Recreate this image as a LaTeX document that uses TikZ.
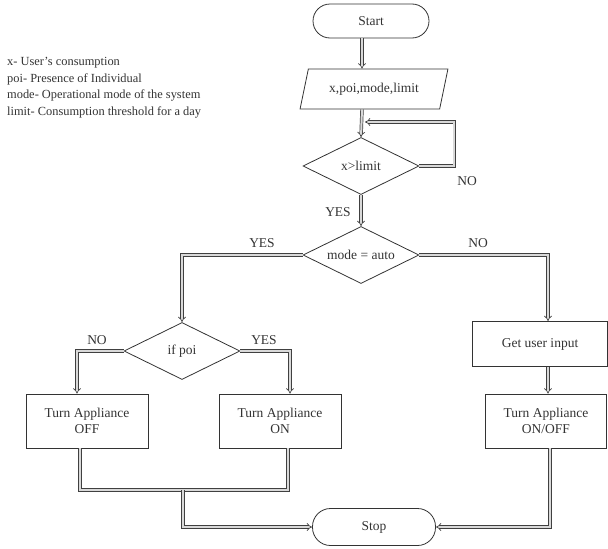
\documentclass[tikz,border=0pt]{standalone}
\usepackage{fontspec}
\setmainfont{Liberation Serif}
\usetikzlibrary{positioning,shapes.geometric,arrows.meta}

\begin{document}
\begin{tikzpicture}[
        x=1pt, y=-1pt,
        font=\fontsize{13.5}{16}\selectfont,
        text=black!80,
        box/.style={draw=black!80, line width=0.8pt, align=center, inner sep=2pt},
        term/.style={box, rounded corners=17pt, minimum width=116pt, minimum height=34pt},
        proc/.style={box, minimum width=122pt, minimum height=54pt},
        io/.style={box, trapezium, trapezium left angle=70, trapezium right angle=110,
                   trapezium stretches=true, minimum width=148pt, minimum height=40pt},
        cond/.style={box, diamond, shape aspect=2, minimum width=116pt,
                     minimum height=57pt, inner sep=0pt},
        lbl/.style={inner sep=1pt},
        wire/.style={draw=black!75, line width=0.7pt, double=black!15, double distance=2pt},
        arr/.style={wire, -{Implies}},
    ]
    \useasboundingbox (0,0) rectangle (608,549);

    % --- Legenda ---
    \node[anchor=north west, align=left, inner sep=0pt, font=\fontsize{12.4}{16.6}\selectfont]
        (legend) at (7,57) {x- User's consumption\\
                            poi- Presence of Individual\\
                            mode- Operational mode of the system\\
                            limit- Consumption threshold for a day};

    % --- Kolumna glowna ---
    \node[term] (start) at (371,21) {Start};
    \node[io] (input) at (374,89) {x,poi,mode,limit};
    \node[cond] (xlim) at (361,166) {x>limit};
    \node[cond] (mode) at (361,255) {mode = auto};

    % --- Galaz lewa ---
    \node[cond] (ifpoi) at (182,351) {if poi};
    \node[proc] (off) at (87,421) {Turn Appliance\\OFF};
    \node[proc] (on) at (280,421) {Turn Appliance\\ON};

    % --- Galaz prawa ---
    \node[proc, minimum width=135pt, minimum height=45pt] (getin) at (540,344) {Get user input};
    \node[proc, minimum width=121pt] (onoff) at (546,421) {Turn Appliance\\ON/OFF};

    \node[term, minimum width=123pt, minimum height=37pt, rounded corners=18pt]
        (stop) at (374,527) {Stop};

    % --- Etykiety ---
    \node[lbl] (no1) at (467,181) {NO};
    \node[lbl] (yes1) at (338,212) {YES};
    \node[lbl] (yes2) at (262,243) {YES};
    \node[lbl] (no2) at (478,243) {NO};
    \node[lbl] (no3) at (97,340) {NO};
    \node[lbl] (yes3) at (264,340) {YES};

    % --- Punkty pomocnicze ---
    \coordinate (spine) at (362,0);
    \coordinate (loopin) at (365,122);
    \coordinate (merge) at (183,490);
    \coordinate (offout) at ([xshift=-7pt]off.south);
    \coordinate (onout) at ([xshift=8pt]on.south);

    % --- Strzalki ---
    \draw[arr] (start.south -| spine) -- (input.north -| spine);
    \draw[arr] (input.south -| spine) -- (xlim.north);
    \draw[arr] (xlim.east) -- ++(35,0) |- (loopin);
    \draw[arr] (xlim.south) -- (mode.north);
    \draw[arr] (mode.west) -| (ifpoi.north);
    \draw[arr] (mode.east) -| ([xshift=8pt]getin.north);
    \draw[arr] (ifpoi.west) -| ([xshift=-10pt]off.north);
    \draw[arr] (ifpoi.east) -| ([xshift=10pt]on.north);
    \draw[arr] ([xshift=8pt]getin.south) -- ([xshift=2pt]onoff.north);
    \draw[wire] (offout) |- (onout |- merge) -- (onout);
    \draw[arr] (merge) |- (stop.west);
    \draw[arr] ([xshift=4pt]onoff.south) |- (stop.east);
\end{tikzpicture}
\end{document}
